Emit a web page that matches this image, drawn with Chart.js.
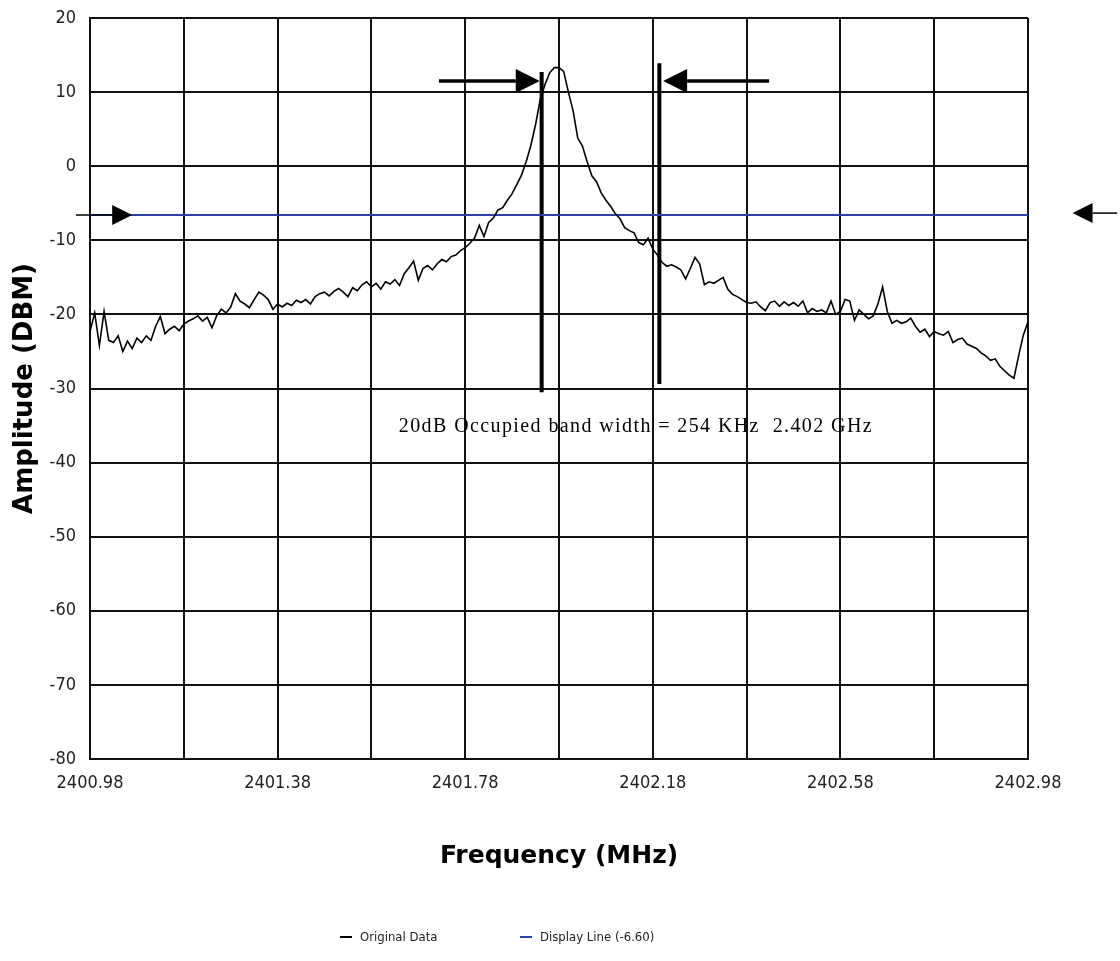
<!DOCTYPE html>
<html>
<head>
<meta charset="utf-8">
<script src="https://cdn.jsdelivr.net/npm/chart.js@4.4.1/dist/chart.umd.min.js"></script>
<style>
  html, body { margin: 0; padding: 0; background: #fff; }
  #wrap { position: relative; width: 1120px; height: 961px; }
</style>
</head>
<body>
<div id="wrap"><canvas id="spectrumChart"></canvas></div>
<script>
// sweep frequencies (MHz)
const freqs = [
    2400.98, 2400.99,
    2401.00, 2401.01, 2401.02, 2401.03, 2401.04, 2401.05, 2401.06, 2401.07, 2401.08, 2401.09,
    2401.10, 2401.11, 2401.12, 2401.13, 2401.14, 2401.15, 2401.16, 2401.17, 2401.18, 2401.19,
    2401.20, 2401.21, 2401.22, 2401.23, 2401.24, 2401.25, 2401.26, 2401.27, 2401.28, 2401.29,
    2401.30, 2401.31, 2401.32, 2401.33, 2401.34, 2401.35, 2401.36, 2401.37, 2401.38, 2401.39,
    2401.40, 2401.41, 2401.42, 2401.43, 2401.44, 2401.45, 2401.46, 2401.47, 2401.48, 2401.49,
    2401.50, 2401.51, 2401.52, 2401.53, 2401.54, 2401.55, 2401.56, 2401.57, 2401.58, 2401.59,
    2401.60, 2401.61, 2401.62, 2401.63, 2401.64, 2401.65, 2401.66, 2401.67, 2401.68, 2401.69,
    2401.70, 2401.71, 2401.72, 2401.73, 2401.74, 2401.75, 2401.76, 2401.77, 2401.78, 2401.79,
    2401.80, 2401.81, 2401.82, 2401.83, 2401.84, 2401.85, 2401.86, 2401.87, 2401.88, 2401.89,
    2401.90, 2401.91, 2401.92, 2401.93, 2401.94, 2401.95, 2401.96, 2401.97, 2401.98, 2401.99,
    2402.00, 2402.01, 2402.02, 2402.03, 2402.04, 2402.05, 2402.06, 2402.07, 2402.08, 2402.09,
    2402.10, 2402.11, 2402.12, 2402.13, 2402.14, 2402.15, 2402.16, 2402.17, 2402.18, 2402.19,
    2402.20, 2402.21, 2402.22, 2402.23, 2402.24, 2402.25, 2402.26, 2402.27, 2402.28, 2402.29,
    2402.30, 2402.31, 2402.32, 2402.33, 2402.34, 2402.35, 2402.36, 2402.37, 2402.38, 2402.39,
    2402.40, 2402.41, 2402.42, 2402.43, 2402.44, 2402.45, 2402.46, 2402.47, 2402.48, 2402.49,
    2402.50, 2402.51, 2402.52, 2402.53, 2402.54, 2402.55, 2402.56, 2402.57, 2402.58, 2402.59,
    2402.60, 2402.61, 2402.62, 2402.63, 2402.64, 2402.65, 2402.66, 2402.67, 2402.68, 2402.69,
    2402.70, 2402.71, 2402.72, 2402.73, 2402.74, 2402.75, 2402.76, 2402.77, 2402.78, 2402.79,
    2402.80, 2402.81, 2402.82, 2402.83, 2402.84, 2402.85, 2402.86, 2402.87, 2402.88, 2402.89,
    2402.90, 2402.91, 2402.92, 2402.93, 2402.94, 2402.95, 2402.96, 2402.97, 2402.98
];

// measured amplitude (dBm)
const amps = [
    -22.3, -19.8,
    -24.2, -19.6, -23.5, -23.8, -22.9, -25.0, -23.6, -24.6, -23.2, -23.8,
    -22.9, -23.5, -21.6, -20.3, -22.6, -22.0, -21.6, -22.2, -21.3, -20.9,
    -20.6, -20.2, -20.9, -20.4, -21.8, -20.2, -19.3, -19.8, -19.0, -17.2,
    -18.2, -18.6, -19.1, -18.0, -17.0, -17.4, -18.0, -19.3, -18.6, -19.0,
    -18.5, -18.8, -18.1, -18.4, -18.0, -18.6, -17.6, -17.2, -17.0, -17.5,
    -16.9, -16.5, -17.0, -17.6, -16.4, -16.8, -16.0, -15.6, -16.3, -15.8,
    -16.6, -15.6, -15.9, -15.3, -16.1, -14.5, -13.7, -12.8, -15.4, -13.8,
    -13.4, -14.0, -13.2, -12.6, -12.9, -12.2, -12.0, -11.4, -11.0, -10.4,
    -9.7, -8.0, -9.5, -7.6, -7.0, -5.9, -5.6, -4.6, -3.7, -2.5,
    -1.2, 0.6, 2.8, 5.6, 9.0, 11.0, 12.6, 13.3, 13.3, 12.8,
    10.0, 7.5, 3.8, 2.7, 0.6, -1.3, -2.1, -3.6, -4.6, -5.4,
    -6.4, -7.1, -8.3, -8.7, -9.0, -10.3, -10.6, -9.7, -11.2, -12.0,
    -13.0, -13.5, -13.3, -13.6, -14.0, -15.2, -13.8, -12.3, -13.2, -16.0,
    -15.6, -15.8, -15.4, -15.0, -16.6, -17.3, -17.6, -18.0, -18.4, -18.5,
    -18.3, -19.0, -19.5, -18.4, -18.2, -18.9, -18.3, -18.8, -18.4, -18.9,
    -18.2, -19.8, -19.2, -19.6, -19.4, -19.8, -18.2, -20.0, -19.6, -18.0,
    -18.2, -20.8, -19.4, -20.0, -20.6, -20.2, -18.6, -16.3, -19.6, -21.2,
    -20.8, -21.2, -21.0, -20.5, -21.6, -22.4, -22.0, -23.0, -22.3, -22.6,
    -22.8, -22.3, -23.8, -23.4, -23.2, -24.0, -24.3, -24.6, -25.2, -25.6,
    -26.2, -26.0, -27.0, -27.6, -28.2, -28.6, -25.6, -22.8, -21.0
];

const displayLevel = -6.60;

// 20 dB bandwidth markers
const markerFreqs = [2401.943, 2402.194];
const markerTops = [12.7, 13.9];
const markerBottoms = [-30.5, -29.4];

const xGridTicks = [2400.98, 2401.18, 2401.38, 2401.58, 2401.78, 2401.98, 2402.18, 2402.38, 2402.58, 2402.78, 2402.98];
const xTickLabels = ['2400.98', '', '2401.38', '', '2401.78', '', '2402.18', '', '2402.58', '', '2402.98'];

const legendLabels = ['Original Data', 'Display Line (-6.60)'];
const noteText = '20dB Occupied band width = 254 KHz  2.402 GHz';

const tickFont = "'DejaVu Sans Condensed', 'DejaVu Sans', sans-serif";
const blue = '#2b40ad';

function drawArrow(ctx, x1, y1, x2, y2, lw, headLen, headHalf) {
    const dir = Math.sign(x2 - x1);
    ctx.save();
    ctx.strokeStyle = '#000';
    ctx.fillStyle = '#000';
    ctx.lineWidth = lw;
    ctx.beginPath();
    ctx.moveTo(x1, y1);
    ctx.lineTo(x2 - dir * headLen, y2);
    ctx.stroke();
    ctx.beginPath();
    ctx.moveTo(x2, y2);
    ctx.lineTo(x2 - dir * headLen, y2 - headHalf);
    ctx.lineTo(x2 - dir * headLen, y2 + headHalf);
    ctx.closePath();
    ctx.fill();
    ctx.restore();
}

const annotations = {
    id: 'annotations',
    afterDraw(chart) {
        const {ctx, scales: {x, y}} = chart;
        const px = v => x.getPixelForValue(v);
        const py = v => y.getPixelForValue(v);

        // arrows pointing at the markers and at the display line
        drawArrow(ctx, px(2401.724), py(11.5), px(2401.939), py(11.5), 3.5, 24, 12);
        drawArrow(ctx, px(2402.428), py(11.5), px(2402.202), py(11.5), 3.5, 24, 12);
        drawArrow(ctx, px(2400.95), py(displayLevel), px(2401.07), py(displayLevel), 1.5, 20, 10);
        drawArrow(ctx, px(2403.17), py(displayLevel) - 2, px(2403.075), py(displayLevel) - 2, 1.5, 20, 10);

        ctx.save();
        ctx.fillStyle = '#000';
        ctx.font = "20px 'Liberation Serif', 'DejaVu Serif', serif";
        ctx.letterSpacing = '1.4px';
        ctx.textAlign = 'center';
        ctx.textBaseline = 'middle';
        ctx.fillText(noteText, px(2402.144), py(-35.1));
        ctx.letterSpacing = '0px';

        // legend
        const ly = 937;
        const items = [[340, '#000'], [520, blue]];
        ctx.font = "13px 'DejaVu Sans Condensed', sans-serif";
        ctx.textAlign = 'left';
        items.forEach(([lx, col], i) => {
            ctx.strokeStyle = col;
            ctx.lineWidth = 2;
            ctx.beginPath();
            ctx.moveTo(lx, ly);
            ctx.lineTo(lx + 12, ly);
            ctx.stroke();
            ctx.fillStyle = '#222';
            ctx.fillText(legendLabels[i], lx + 20, ly + 1);
        });
        ctx.restore();
    }
};

const ctx = document.getElementById('spectrumChart').getContext('2d');
new Chart(ctx, {
    type: 'scatter',
    data: {
        datasets: [{
            label: legendLabels[0],
            data: freqs.map((f, i) => ({x: f, y: amps[i]})),
            showLine: true,
            borderColor: '#000',
            borderWidth: 1.6,
            pointRadius: 0,
            tension: 0
        }, {
            label: legendLabels[1],
            data: [{x: xGridTicks[0], y: displayLevel}, {x: xGridTicks[xGridTicks.length - 1], y: displayLevel}],
            showLine: true,
            borderColor: blue,
            borderWidth: 2,
            pointRadius: 0
        }, {
            label: 'marker L',
            data: [{x: markerFreqs[0], y: markerTops[0]}, {x: markerFreqs[0], y: markerBottoms[0]}],
            showLine: true,
            borderColor: '#000',
            borderWidth: 4,
            pointRadius: 0
        }, {
            label: 'marker R',
            data: [{x: markerFreqs[1], y: markerTops[1]}, {x: markerFreqs[1], y: markerBottoms[1]}],
            showLine: true,
            borderColor: '#000',
            borderWidth: 4,
            pointRadius: 0
        }]
    },
    options: {
        responsive: true,
        maintainAspectRatio: false,
        animation: false,
        layout: {
            padding: {left: 0, right: 92, top: 18, bottom: 72}
        },
        plugins: {
            legend: {display: false},
            tooltip: {enabled: false}
        },
        scales: {
            x: {
                type: 'linear',
                min: xGridTicks[0],
                max: xGridTicks[xGridTicks.length - 1],
                afterBuildTicks: scale => {
                    scale.ticks = xGridTicks.map(v => ({value: v}));
                },
                afterFit: scale => { scale.height = 130; },
                grid: {color: '#111', lineWidth: 2, drawTicks: false},
                border: {color: '#111', width: 2},
                ticks: {
                    autoSkip: false,
                    maxRotation: 0,
                    padding: 14,
                    color: '#222',
                    font: {family: tickFont, size: 18},
                    callback: (v, i) => xTickLabels[i]
                },
                title: {
                    display: true,
                    text: 'Frequency (MHz)',
                    color: '#000',
                    font: {family: "'DejaVu Sans', sans-serif", size: 25, weight: 'bold'},
                    padding: {top: 0, bottom: 18}
                }
            },
            y: {
                min: -80,
                max: 20,
                afterFit: scale => {
                    scale.width = 90;
                    scale.paddingTop = 0;
                    scale.paddingBottom = 0;
                },
                grid: {color: '#111', lineWidth: 2, drawTicks: false},
                border: {color: '#111', width: 2},
                ticks: {
                    stepSize: 10,
                    padding: 14,
                    color: '#222',
                    font: {family: tickFont, size: 18}
                },
                title: {
                    display: true,
                    text: 'Amplitude (DBM)',
                    color: '#000',
                    font: {family: "'DejaVu Sans', sans-serif", size: 26, weight: 'bold'},
                    padding: {top: 10, bottom: 0}
                }
            }
        }
    },
    plugins: [annotations]
});
</script>
</body>
</html>
